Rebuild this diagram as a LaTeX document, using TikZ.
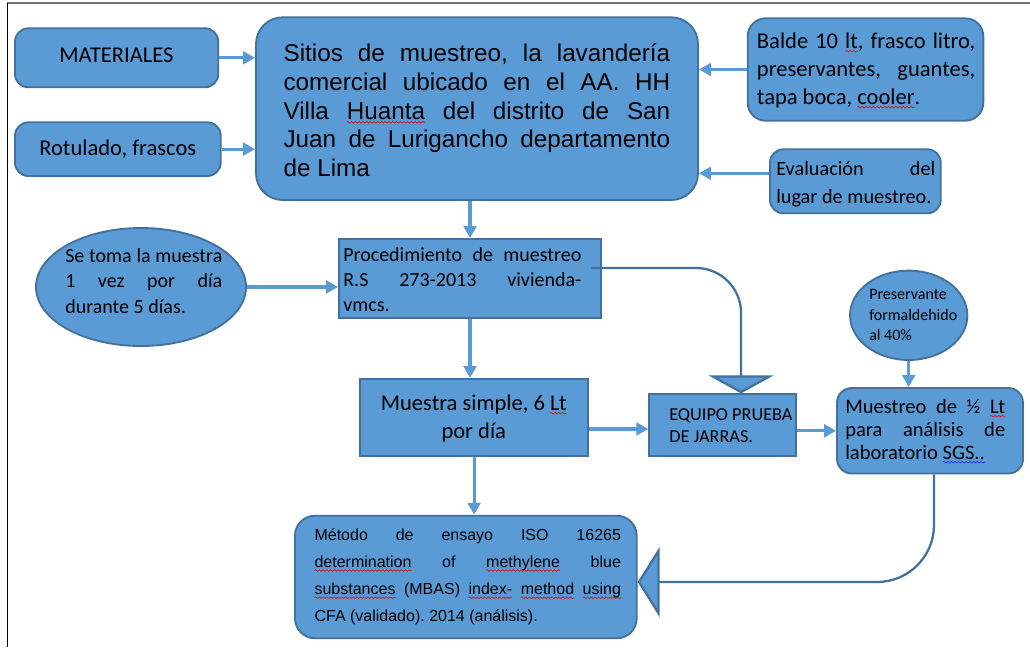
\documentclass[tikz,border=0pt]{standalone}
\usepackage{fontspec}
\setmainfont{Carlito}
\newfontfamily\arialf{Liberation Sans}
\usetikzlibrary{arrows.meta,shapes.geometric,fit,calc,decorations.pathmorphing}
\definecolor{cfill}{HTML}{5B9BD5}
\definecolor{cedge}{HTML}{41719C}
\definecolor{squigr}{HTML}{E01010}
\definecolor{squigb}{HTML}{2030E0}
\newsavebox\sqbox
\newcommand\jl[1]{\hbox to \hsize{\frenchspacing\spaceskip=0.226em plus 1fil minus 0.1em\relax #1}}
\newcommand\fl[1]{\hbox to \hsize{\frenchspacing #1\hfil}}
\newcommand\cl[1]{\hbox to \hsize{\hfil #1\hfil}}
\newcommand\jbox[3]{\vbox{\hsize=#1\baselineskip=#2\lineskiplimit=-100pt\lineskip=0pt #3}}
\newcommand\wavy[2]{\sbox\sqbox{#2}\rlap{\tikz[x=1pt,y=1pt,baseline=0pt]{\useasboundingbox (0,0);\draw[draw=#1, line width=0.5pt, decorate, decoration={snake, amplitude=0.6pt, segment length=2.8pt}] (0,-2.4) -- (\the\wd\sqbox,-2.4);}}\usebox\sqbox}
\newcommand\rsq[1]{\wavy{squigr}{#1}}
\newcommand\bsq[1]{\wavy{squigb}{#1}}
\begin{document}
\begin{tikzpicture}[x=0.75pt,y=-0.75pt,
  box/.style={draw=cedge, fill=cfill, line width=1.4pt, inner sep=0pt},
  rbox/.style={box, rounded corners=#1},
  ell/.style={ellipse, draw=cedge, fill=cfill, line width=1.4pt, inner sep=0pt},
  txt/.style={inner sep=0pt, anchor=base west, text=black},
  link/.style={draw=cfill, line width=2.3pt, -{Triangle[length=9pt,width=9.5pt]}},
  bendl/.style={draw=cedge, line width=1.7pt},
]
\useasboundingbox (0,0) rectangle (1030,647);
\draw[black!55, line width=1.3pt] (7,2.7) -- (1030,2.7);
\draw[black, line width=1pt] (7.3,2.7) -- (7.3,647);

% boxes
\node[rbox=10pt, fit={(15,28.3) (218.3,87.3)}] (mat) {};
\node[rbox=10pt, fit={(15,122.3) (220.7,176)}] (rot) {};
\node[rbox=20pt, fit={(256,17.3) (698,200)}] (sitios) {};
\node[rbox=13.5pt, fit={(747.7,18.3) (983.3,120.7)}] (balde) {};
\node[rbox=10pt, fit={(770,149.3) (940.7,213.3)}] (eval) {};
\node[ell, minimum width=157.5pt, minimum height=88.5pt] (toma) at (141,287) {};
\node[box, fit={(339,239) (601,318)}] (proc) {};
\node[box, fit={(360,379) (588.3,456)}] (muestra) {};
\node[box, fit={(649.3,394.3) (796,455.7)}] (equipo) {};
\node[ell, minimum width=88pt, minimum height=67pt] (preserv) at (908.7,315.3) {};
\node[rbox=11pt, fit={(837,388) (1023,473.5)}] (muestreo) {};
\node[rbox=15pt, fit={(295,515.7) (636.7,638.3)}] (metodo) {};

% straight connectors
\draw[link] (mat.east) -- (mat.east -| sitios.west);
\draw[link] (rot.east) -- (rot.east -| sitios.west);
\draw[link] (balde.west) -- (balde.west -| sitios.east);
\coordinate (ev) at ([yshift=6pt]eval.west);
\draw[link] (ev) -- (ev -| sitios.east);
\draw[link] (sitios.south -| proc.north) -- (proc.north);
\draw[link] (toma.east) -- (toma.east -| proc.west);
\draw[link] (proc.south) -- (proc.south |- muestra.north);
\draw[link] (muestra.south) -- (muestra.south |- metodo.north);
\coordinate (me) at ($(muestra.east |- equipo.west)+(0,4)$);
\draw[link] (me) -- (me -| equipo.west);
\draw[link] (equipo.east |- muestreo.west) -- (muestreo.west);
\draw[link] (preserv.south) -- (preserv.south |- muestreo.north);

% bent connectors
\coordinate (pstart) at ($(proc.east)+(-11,-10.5)$);
\coordinate (eqin) at ($(equipo.north)+(18.4,0)$);
\draw[bendl, rounded corners=33.75pt, -{Triangle[length=13.5pt,width=48.75pt,fill=cfill]}] (pstart) -| (eqin);
\coordinate (mstart) at ($(muestreo.south)+(4,0)$);
\coordinate (mein) at ($(metodo.east)+(0,5)$);
\draw[bendl, rounded corners=42.75pt, -{Triangle[length=16.5pt,width=52.5pt,fill=cfill]}] (mstart) |- (mein);

% texts
\node[txt, anchor=base, font=\fontsize{16.9pt}{20pt}\selectfont] (matT) at (116.5,62.7) {MATERIALES};
\node[txt, anchor=base, font=\fontsize{16.9pt}{20pt}\selectfont] (rotT) at (117.8,155) {Rotulado, frascos};
\node[txt, font=\arialf\fontsize{18.2pt}{21.6pt}\selectfont] (sitiosT) at (283.3,176.7)
  {\jbox{290pt}{21.6pt}{\jl{Sitios de muestreo, la lavandería}\jl{comercial ubicado en el AA. HH}\jl{Villa \rsq{Huanta} del distrito de San}\jl{Juan de Lurigancho departamento}\fl{de Lima}}};
\node[txt, font=\fontsize{16.9pt}{21pt}\selectfont] (baldeT) at (756.7,104)
  {\jbox{163.7pt}{21pt}{\jl{Balde 10 \rsq{lt}, frasco litro,}\jl{preservantes, guantes,}\fl{tapa boca, \rsq{cooler}.}}};
\node[txt, font=\fontsize{15.2pt}{20.7pt}\selectfont] (evalT) at (776,203.3)
  {\jbox{119.3pt}{20.7pt}{\jl{Evaluación del}\fl{lugar de muestreo.}}};
\node[txt, font=\fontsize{15pt}{19.1pt}\selectfont] (tomaT) at (65,313)
  {\jbox{117.8pt}{19.1pt}{\jl{Se toma la muestra}\jl{1 vez por día}\fl{durante 5 días.}}};
\node[txt, font=\fontsize{15pt}{18.4pt}\selectfont] (procT) at (343,311)
  {\jbox{178.5pt}{18.4pt}{\jl{Procedimiento de muestreo}\jl{R.S 273-2013 vivienda-}\fl{vmcs.}}};
\node[txt, font=\fontsize{16.9pt}{21.2pt}\selectfont] (muestraT) at (358.5,438.3)
  {\jbox{172.5pt}{21.2pt}{\cl{Muestra simple, 6 \rsq{Lt}}\cl{por día}}};
\node[txt, font=\fontsize{13.7pt}{16.5pt}\selectfont] (equipoT) at (669,442)
  {\jbox{100pt}{16.5pt}{\fl{EQUIPO PRUEBA}\fl{DE JARRAS.}}};
\node[txt, font=\fontsize{15.4pt}{17.25pt}\selectfont] (muestreoT) at (845,459)
  {\jbox{120pt}{17.25pt}{\jl{Muestreo de ½ \rsq{Lt}}\jl{para análisis de}\fl{laboratorio \bsq{SGS..}}}};
\node[txt, font=\fontsize{12pt}{15.5pt}\selectfont] (preservT) at (869,340.7)
  {\jbox{80pt}{15.5pt}{\fl{Preservante}\fl{formaldehido}\fl{al 40\%}}};
\node[txt, font=\arialf\fontsize{12pt}{20.4pt}\selectfont] (metodoT) at (314.3,621.7)
  {\jbox{229.8pt}{20.4pt}{\jl{Método de ensayo ISO 16265}\jl{\rsq{determination} of \rsq{methylene} blue}\jl{\rsq{substances} (MBAS) \rsq{index-} \rsq{method} \rsq{using}}\fl{CFA (validado). 2014 (análisis).}}};
\end{tikzpicture}
\end{document}
